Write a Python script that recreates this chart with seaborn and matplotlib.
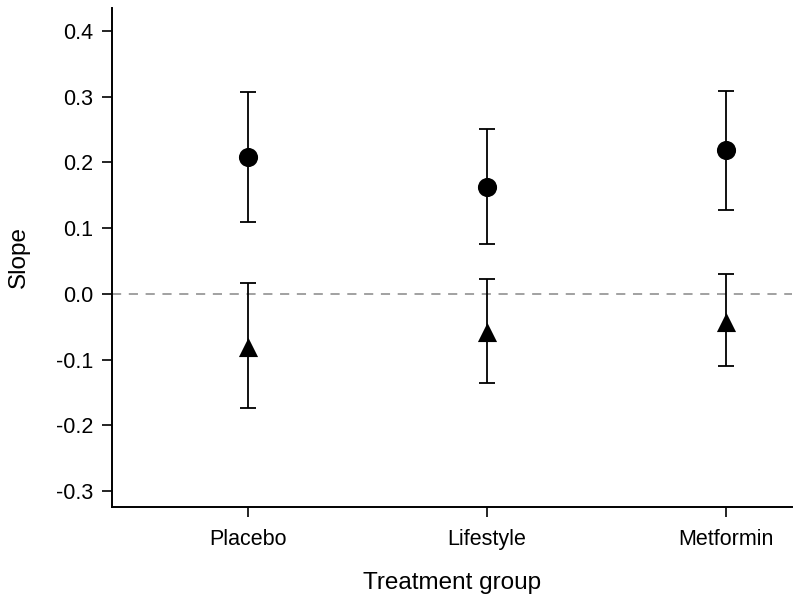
import numpy as np
import pandas as pd
import seaborn as sns
import matplotlib.pyplot as plt

groups = ['Placebo', 'Lifestyle', 'Metformin']

# circles (upper series)
circle_est = [0.208, 0.163, 0.219]
circle_lo = [0.109, 0.076, 0.128]
circle_hi = [0.307, 0.250, 0.309]

# triangles (lower series)
tri_est = [-0.080, -0.058, -0.043]
tri_lo = [-0.174, -0.136, -0.110]
tri_hi = [0.017, 0.023, 0.030]

yticks = [-0.3, -0.2, -0.1, 0.0, 0.1, 0.2, 0.3, 0.4]

sns.set_style('ticks')
plt.rcParams['font.family'] = ['Liberation Sans', 'DejaVu Sans']
plt.rcParams['text.color'] = 'black'
plt.rcParams['axes.labelcolor'] = 'black'
plt.rcParams['xtick.color'] = 'black'
plt.rcParams['ytick.color'] = 'black'

fig = plt.figure(figsize=(8, 6), dpi=100)
ax = fig.add_axes([0.14, 0.155, 0.85, 0.832])

df_c = pd.DataFrame({'group': groups, 'slope': circle_est})
df_t = pd.DataFrame({'group': groups, 'slope': tri_est})

# dashed reference line at zero
ax.axhline(0, color='#888888', linestyle=(0, (6, 5)), linewidth=1.1, zorder=1)

for est, lo, hi in [(circle_est, circle_lo, circle_hi), (tri_est, tri_lo, tri_hi)]:
    est = np.array(est)
    yerr = [est - np.array(lo), np.array(hi) - est]
    ax.errorbar(groups, est, yerr=yerr, fmt='none', ecolor='black',
                elinewidth=1.3, capsize=6, capthick=1.3, zorder=2)

sns.scatterplot(data=df_c, x='group', y='slope', marker='o', s=190,
                color='black', edgecolor='black', linewidth=0, ax=ax, zorder=3)
sns.scatterplot(data=df_t, x='group', y='slope', marker='^', s=190,
                color='black', edgecolor='black', linewidth=0, ax=ax, zorder=3)

ax.set_xlim(-0.571, 2.277)
ax.set_ylim(-0.324, 0.435)
ax.set_yticks(yticks)
ax.set_yticklabels(['%.1f' % v for v in yticks])

ax.set_xlabel('Treatment group', fontsize=17.5, labelpad=16)
ax.set_ylabel('Slope', fontsize=17.5, labelpad=19)
ax.tick_params(axis='both', labelsize=15.5, length=7.5, width=1.2, color='black',
               labelcolor='black', direction='out', pad=6)
ax.tick_params(axis='x', pad=8)
sns.despine(ax=ax)
for side in ['left', 'bottom']:
    ax.spines[side].set_linewidth(1.4)
    ax.spines[side].set_color('black')

plt.savefig('out.png', dpi=100)
